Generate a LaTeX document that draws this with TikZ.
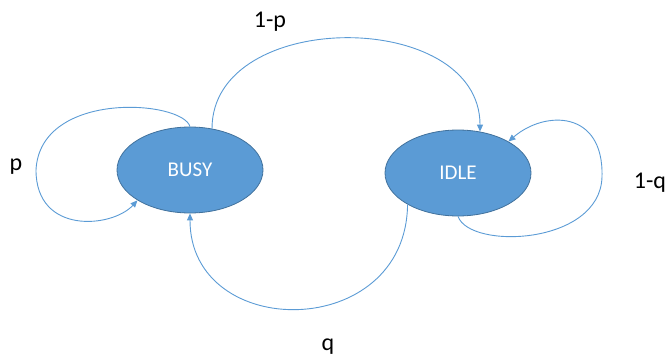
\documentclass[tikz,border=0pt]{standalone}
\usepackage{fontspec}
\setmainfont{Carlito}
\usetikzlibrary{arrows.meta,shapes.geometric}
\definecolor{fillblue}{HTML}{5B9BD5}
\definecolor{edgeblue}{HTML}{41719C}
\definecolor{lineblue}{HTML}{5B9BD5}
\begin{document}
\begin{tikzpicture}[x=1pt,y=-1pt,
  state/.style={ellipse, fill=fillblue, draw=edgeblue, line width=0.8pt,
    minimum width=146pt, minimum height=86pt, inner sep=0pt,
    text=white, font=\fontsize{21}{24}\selectfont},
  conn/.style={draw=lineblue, line width=0.9pt,
    -{Triangle[length=7pt,width=6pt]}},
  lbl/.style={font=\fontsize{24}{28}\selectfont, text=black}]
\useasboundingbox (0,0) rectangle (669,362);
\node[state] (busy) at (190,170) {BUSY};
\node[state] (idle) at (458,173) {IDLE};
\coordinate (pmid) at (36,170);
\coordinate (qmid) at (602,177);
\node[lbl] (lp) at (16,167) {p};
\node[lbl] (l1p) at (270,22) {1-p};
\node[lbl] (lq) at (328,347) {q};
\node[lbl] (l1q) at (650,183) {1-q};
% p self loop
\draw[draw=lineblue, line width=0.9pt] (busy.north) .. controls (182,100) and (40,90) .. (pmid);
\draw[conn] (pmid) .. controls (36,235) and (112,228) .. (busy.-150);
% 1-p
\draw[conn] (busy.62) .. controls (212,8) and (480,8) .. (idle.62);
% q
\draw[conn] (idle.-148) .. controls (406,342) and (190,342) .. (busy.south);
% 1-q loop
\draw[draw=lineblue, line width=0.9pt] (idle.south) .. controls (470,250) and (600,245) .. (qmid);
\draw[conn] (qmid) .. controls (604,110) and (545,110) .. (idle.32);
\end{tikzpicture}
\end{document}
